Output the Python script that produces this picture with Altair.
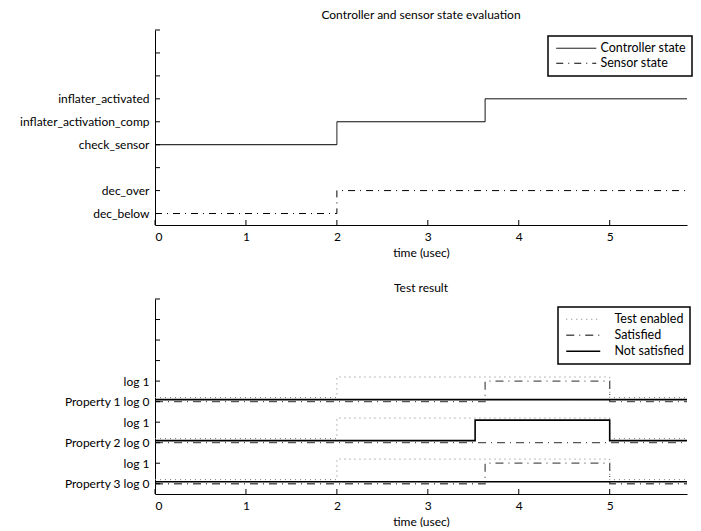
import json
import altair as alt
import pandas as pd

# ---------------- data: top panel ----------------
ctrl_time = [0, 2, 3.63, 6]
ctrl_state = ["check_sensor", "inflater_activation_comp", "inflater_activated", "inflater_activated"]
sensor_time = [0, 2, 6]
sensor_state = ["dec_below", "dec_over", "dec_over"]

top_tick_values = [1, 2, 3, 4, 5, 6, 7, 8, 9]
top_tick_labels = ["dec_below", "dec_over", "", "check_sensor", "inflater_activation_comp",
                   "inflater_activated", "", "", ""]
top_series = ["Controller state", "Sensor state"]

# ---------------- data: bottom panel ----------------
properties = ["Property 1", "Property 2", "Property 3"]
property_base = {"Property 1": 5, "Property 2": 3, "Property 3": 1}
enabled_time = [0, 2, 5, 6]
enabled_val = [0, 1, 0, 0]
satisfied_time = {"Property 1": [0, 3.63, 5, 6], "Property 2": [0, 6], "Property 3": [0, 3.63, 5, 6]}
satisfied_val = {"Property 1": [0, 1, 0, 0], "Property 2": [0, 0], "Property 3": [0, 1, 0, 0]}
notsat_time = {"Property 1": [0, 6], "Property 2": [0, 3.52, 5, 6], "Property 3": [0, 6]}
notsat_val = {"Property 1": [0, 0], "Property 2": [0, 1, 0, 0], "Property 3": [0, 0]}

bottom_tick_values = [1, 2, 3, 4, 5, 6, 7, 8, 9, 10]
bottom_tick_labels = ["Property 3 log 0", "log 1", "Property 2 log 0", "log 1", "Property 1 log 0",
                      "log 1", "", "", "", ""]
bottom_series = ["Test enabled", "Satisfied", "Not satisfied"]

x_ticks = [0, 1, 2, 3, 4, 5, 6]

# ---------------- build tables ----------------
top_level = {lab: v for v, lab in zip(top_tick_values, top_tick_labels) if lab}
rows = []
for t, s in zip(ctrl_time, ctrl_state):
    rows.append({"t": t, "y": top_level[s], "series": "Controller state"})
for t, s in zip(sensor_time, sensor_state):
    rows.append({"t": t, "y": top_level[s], "series": "Sensor state"})
top_df = pd.DataFrame(rows)

# small vertical separation so overlapping signals remain visible
series_offset = {"Test enabled": 0.2, "Satisfied": 0.0, "Not satisfied": 0.1}
rows = []
for p in properties:
    b = property_base[p]
    for t, v in zip(enabled_time, enabled_val):
        rows.append({"t": t, "y": b + v + series_offset["Test enabled"], "series": "Test enabled", "prop": p})
    for t, v in zip(satisfied_time[p], satisfied_val[p]):
        rows.append({"t": t, "y": b + v + series_offset["Satisfied"], "series": "Satisfied", "prop": p})
    for t, v in zip(notsat_time[p], notsat_val[p]):
        rows.append({"t": t, "y": b + v + series_offset["Not satisfied"], "series": "Not satisfied", "prop": p})
bot_df = pd.DataFrame(rows)

W, H = 532, 195
FONT = "Lato"
XMAX = 5.85   # the figure is cropped on the right, just before t = 6


def label_expr(labels):
    return json.dumps(labels).replace('"', "'") + "[datum.value - 1]"


x_scale = alt.Scale(domain=[0, XMAX], nice=False, zero=False)
x_axis = alt.Axis(values=[v for v in x_ticks if v <= XMAX], format="d", title="time (usec)",
                  ticks=False, labelPadding=6, titlePadding=5, labelFontSize=12, titleFontSize=12,
                  titleFontWeight="normal", grid=False, labelOverlap=False)


def y_axis(vals, labels):
    shown = [v for v, lab in zip(vals, labels) if lab]
    return alt.Axis(values=shown, labelExpr=label_expr(labels), title=None, ticks=False,
                    labelPadding=6, minExtent=144, maxExtent=144, labelFontSize=12,
                    labelOverlap=False, grid=False)


def tick_layers(yvals, yscale, yaxis):
    ydf = pd.DataFrame({"v": yvals})
    xdf = pd.DataFrame({"v": x_ticks})
    yt = alt.Chart(ydf).mark_rule(color="black", strokeWidth=1).encode(
        y=alt.Y("v:Q", scale=yscale, axis=yaxis), x=alt.value(0), x2=alt.value(5))
    xt = alt.Chart(xdf).transform_filter(f"datum.v <= {XMAX}").mark_rule(color="black", strokeWidth=1).encode(
        x=alt.X("v:Q", scale=x_scale, axis=x_axis), y=alt.value(H), y2=alt.value(H - 5))
    return yt, xt


def legend(x, y, path, offset, row_pad):
    return alt.Legend(title=None, orient="none", legendX=x, legendY=y, symbolType=path,
                      symbolSize=64, strokeColor="black", padding=6, fillColor="white",
                      labelFontSize=12.5, rowPadding=row_pad, labelOffset=offset,
                      symbolStrokeWidth=1)


top_y = alt.Scale(domain=[0.5, 9], nice=False, zero=False)
top_yaxis = y_axis(top_tick_values, top_tick_labels)
tleg = legend(393, 6, "M-1,0H9", 34, 2)
top_lines = alt.Chart(top_df).mark_line(interpolate="step-after", strokeWidth=1, clip=True).encode(
    x=alt.X("t:Q", scale=x_scale, axis=x_axis),
    y=alt.Y("y:Q", scale=top_y, axis=top_yaxis),
    color=alt.Color("series:N", scale=alt.Scale(domain=top_series, range=["black", "black"]), legend=tleg),
    strokeDash=alt.StrokeDash("series:N", scale=alt.Scale(domain=top_series, range=[[1, 0], [7, 5, 1, 5]]),
                              legend=tleg),
)
yt1, xt1 = tick_layers(top_tick_values, top_y, top_yaxis)
top = alt.layer(top_lines, yt1, xt1).properties(
    width=W, height=H,
    title=alt.TitleParams("Controller and sensor state evaluation", fontSize=12, font=FONT,
                          fontWeight="normal", anchor="middle", offset=8))

bot_y = alt.Scale(domain=[0.5, 10], nice=False, zero=False)
bot_yaxis = y_axis(bottom_tick_values, bottom_tick_labels)
bleg = legend(403, 8, "M-1,0H7.5", 38, 3)
bot_lines = alt.Chart(bot_df).mark_line(interpolate="step-after", clip=True).encode(
    x=alt.X("t:Q", scale=x_scale, axis=x_axis),
    y=alt.Y("y:Q", scale=bot_y, axis=bot_yaxis),
    color=alt.Color("series:N", scale=alt.Scale(domain=bottom_series, range=["#7a7a7a", "#555555", "black"]),
                    legend=bleg),
    strokeDash=alt.StrokeDash("series:N", scale=alt.Scale(domain=bottom_series,
                                                          range=[[1, 4], [8, 5, 1, 5], [1, 0]]),
                              legend=bleg),
    strokeWidth=alt.StrokeWidth("series:N", scale=alt.Scale(domain=bottom_series, range=[1, 1.6, 1.2]),
                                legend=bleg),
    detail="prop:N",
)
yt2, xt2 = tick_layers(bottom_tick_values, bot_y, bot_yaxis)
bottom = alt.layer(bot_lines, yt2, xt2).properties(
    width=W, height=H,
    title=alt.TitleParams("Test result", fontSize=12, font=FONT, fontWeight="normal",
                          anchor="middle", offset=4))

chart = alt.vconcat(top, bottom, spacing=23).resolve_scale(
    color="independent", strokeDash="independent", strokeWidth="independent"
).resolve_legend(
    color="independent", strokeDash="independent", strokeWidth="independent"
).properties(
    padding={"left": 3, "top": 0, "right": 0, "bottom": 0}
).configure(font=FONT, background="white").configure_view(stroke=None).configure_axis(
    domainColor="black", domainWidth=1, grid=False, labelColor="black", titleColor="black",
    labelFont=FONT, titleFont=FONT
).configure_legend(labelFont=FONT, labelColor="black", strokeWidth=1.5)

chart.save("out.html", embed_options={"renderer": "svg", "actions": False})
